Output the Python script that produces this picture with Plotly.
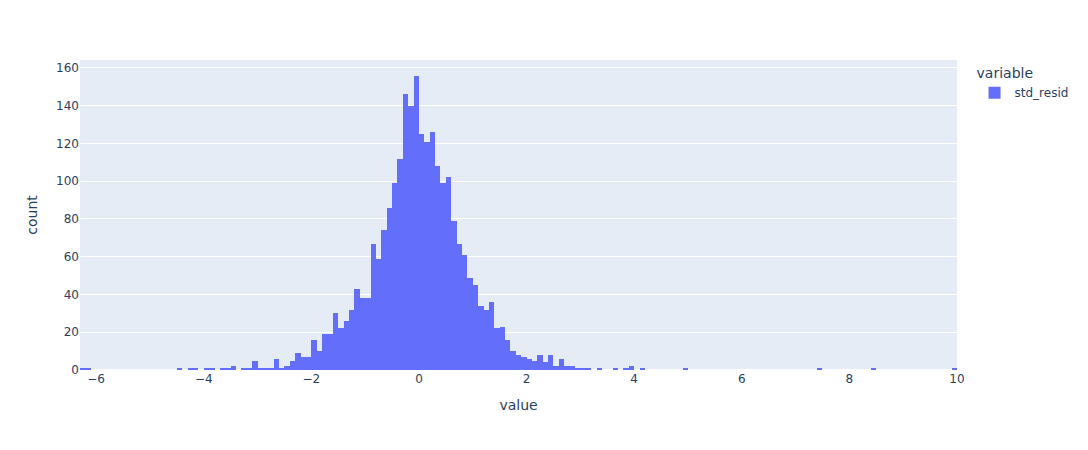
import numpy as np
import pandas as pd
import plotly.express as px

# histogram of standardized residuals, bins of 0.1 starting at -6.3
bin_start = -6.3
bin_size = 0.1

counts = [
    1, 1, 0, 0, 0, 0, 0, 0, 0, 0,            # -6.3 .. -5.4
    0, 0, 0, 0, 0, 0, 0, 0, 1, 0,            # -5.3 .. -4.4
    1, 1, 0, 1, 1, 0, 1, 1, 2, 0,            # -4.3 .. -3.4
    1, 1, 5, 1, 1, 1, 6, 1, 2, 5,            # -3.3 .. -2.4
    9, 7, 7, 16, 10, 19, 19, 30, 22, 26,     # -2.3 .. -1.4
    32, 43, 38, 38, 67, 59, 74, 86, 99, 112,  # -1.3 .. -0.4
    146, 140, 156, 125, 121, 126, 108, 99, 102, 79,  # -0.3 .. 0.6
    67, 61, 49, 45, 34, 32, 36, 22, 23, 16,  # 0.7 .. 1.6
    10, 8, 7, 6, 5, 8, 4, 8, 2, 6,           # 1.7 .. 2.6
    2, 2, 1, 1, 1, 0, 1, 0, 0, 1,            # 2.7 .. 3.6
    0, 1, 2, 0, 1, 0, 0, 0, 0, 0,            # 3.7 .. 4.6
    0, 0, 1, 0, 0, 0, 0, 0, 0, 0,            # 4.7 .. 5.6
    0, 0, 0, 0, 0, 0, 0, 0, 0, 0,            # 5.7 .. 6.6
    0, 0, 0, 0, 0, 0, 0, 1, 0, 0,            # 6.7 .. 7.6
    0, 0, 0, 0, 0, 0, 0, 1, 0, 0,            # 7.7 .. 8.6
    0, 0, 0, 0, 0, 0, 0, 0, 0, 0,            # 8.7 .. 9.6
    0, 0, 1,                                 # 9.7 .. 9.9
]

bin_centers = np.round(bin_start + bin_size * (np.arange(len(counts)) + 0.5), 3)

df = pd.DataFrame(
    {"value": bin_centers, "count": counts, "variable": "std_resid"}
)

fig = px.bar(df, x="value", y="count", color="variable")
fig.update_traces(width=bin_size, marker_line_width=0)

# page body has an 8px margin, so shrink the figure to line up with the window
fig.update_layout(
    width=1080,
    height=442,
    bargap=0,
    font=dict(family="DejaVu Sans, Verdana, sans-serif"),
    margin=dict(l=72, r=131, t=52, b=80),
    xaxis=dict(range=[bin_start, bin_start + bin_size * len(counts)]),
)

fig.write_html("out.html")
